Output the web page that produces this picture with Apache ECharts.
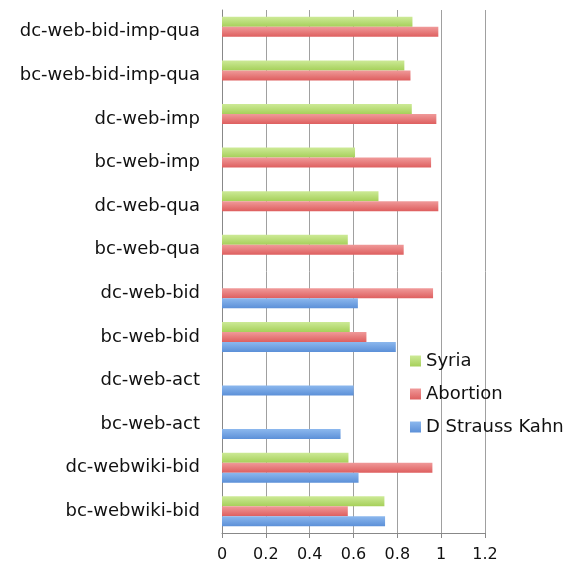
<!DOCTYPE html>
<html lang="en">
<head>
<meta charset="UTF-8">
<title>Bars</title>
<script src="https://cdn.jsdelivr.net/npm/echarts@6/dist/echarts.min.js"></script>
<style>html,body{margin:0;padding:0;background:#fff;}</style>
</head>
<body>
<div id="main" style="width:564px;height:569px;"></div>
<script>
// categories from bottom to top
var categories = ['bc-webwiki-bid', 'dc-webwiki-bid', 'bc-web-act', 'dc-web-act', 'bc-web-bid', 'dc-web-bid',
  'bc-web-qua', 'dc-web-qua', 'bc-web-imp', 'dc-web-imp', 'bc-web-bid-imp-qua', 'dc-web-bid-imp-qua'];
var dsk = [0.744, 0.623, 0.541, 0.601, 0.793, 0.62, null, null, null, null, null, null];
var abortion = [0.574, 0.96, null, null, 0.659, 0.963, 0.829, 0.987, 0.954, 0.978, 0.86, 0.987];
var syria = [0.741, 0.577, null, null, 0.583, null, 0.574, 0.714, 0.607, 0.866, 0.832, 0.869];

function grad(top, bottom) {
  return new echarts.graphic.LinearGradient(0, 0, 0, 1, [
    { offset: 0, color: top }, { offset: 1, color: bottom }
  ]);
}

var chart = echarts.init(document.getElementById('main'));
var font = 'DejaVu Sans';
chart.setOption({
  animation: false,
  textStyle: { fontFamily: font },
  grid: { left: 222, right: 79, top: 10, bottom: 36 },
  legend: {
    orient: 'vertical',
    left: 405, top: 347,
    itemWidth: 11, itemHeight: 11, itemGap: 15,
    icon: 'rect',
    textStyle: { fontSize: 18, color: '#111', fontFamily: font },
    data: ['Syria', 'Abortion', 'D Strauss Kahn']
  },
  xAxis: {
    type: 'value', min: 0, max: 1.2, interval: 0.2,
    axisLine: { show: true, lineStyle: { color: '#888' } },
    axisTick: { show: true, length: 5, lineStyle: { color: '#888' } },
    splitLine: { lineStyle: { color: '#a0a0a0', width: 1 } },
    axisLabel: {
      fontSize: 16, color: '#111', margin: 14,
      formatter: function (v) { return String(+v.toFixed(1)); }
    }
  },
  yAxis: {
    type: 'category', data: categories,
    axisLine: { lineStyle: { color: '#888' } },
    axisTick: { length: 8, lineStyle: { color: '#888' } },
    axisLabel: { fontSize: 18, color: '#111', margin: 22, padding: [7, 0, 0, 0] }
  },
  series: [
    { name: 'Syria', type: 'bar', data: syria, barWidth: 10, barGap: '0%', barCategoryGap: '31%',
      itemStyle: { color: grad('#cdea97', '#a6d05a') } },
    { name: 'Abortion', type: 'bar', data: abortion, barWidth: 10, barGap: '0%',
      itemStyle: { color: grad('#f09a9a', '#de5f5f') } },
    { name: 'D Strauss Kahn', type: 'bar', data: dsk, barWidth: 10, barGap: '0%',
      itemStyle: { color: grad('#8cb8ee', '#5c90d8') } }
  ]
});
</script>
</body>
</html>
